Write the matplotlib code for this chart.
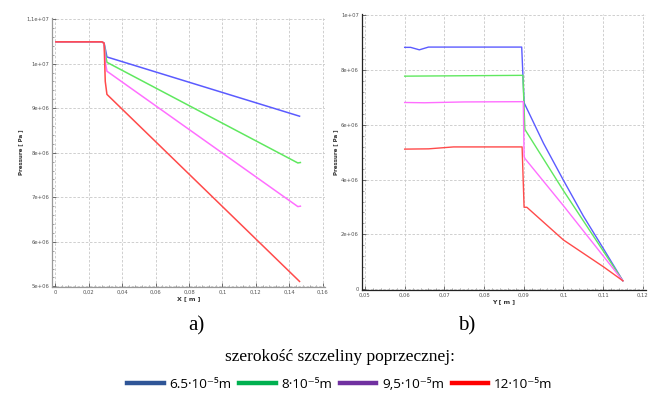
import numpy as np
import matplotlib
matplotlib.use("Agg")
import matplotlib.pyplot as plt
from matplotlib.ticker import FixedLocator, AutoMinorLocator, FuncFormatter

# ---- data ----
# a) pressure along X
xa_blue = [0.0005, 0.028, 0.0293, 0.0302, 0.031, 0.146]
pa_blue = [1.049e7, 1.049e7, 1.046e7, 1.03e7, 1.015e7, 8.82e6]
xa_green = [0.0005, 0.028, 0.0293, 0.0302, 0.031, 0.145, 0.1465]
pa_green = [1.049e7, 1.049e7, 1.046e7, 1.02e7, 1.003e7, 7.77e6, 7.78e6]
xa_mag = [0.0005, 0.028, 0.0293, 0.0302, 0.031, 0.145, 0.1465]
pa_mag = [1.049e7, 1.049e7, 1.046e7, 1.0e7, 9.83e6, 6.79e6, 6.80e6]
xa_red = [0.0005, 0.028, 0.0293, 0.0300, 0.031, 0.146]
pa_red = [1.049e7, 1.049e7, 1.046e7, 9.6e6, 9.31e6, 5.11e6]

# b) pressure along Y
yb_blue = [0.06, 0.0615, 0.0637, 0.066, 0.0895, 0.0901, 0.095, 0.100, 0.105, 0.1101, 0.115]
pb_blue = [8.82e6, 8.82e6, 8.73e6, 8.83e6, 8.83e6, 6.80e6, 5.32e6, 3.98e6, 2.68e6, 1.48e6, 3.1e5]
yb_green = [0.06, 0.07, 0.0898, 0.0903, 0.100, 0.115]
pb_green = [7.77e6, 7.78e6, 7.80e6, 5.83e6, 3.60e6, 3.1e5]
yb_mag = [0.06, 0.065, 0.075, 0.0899, 0.0901, 0.0903, 0.100, 0.115]
pb_mag = [6.81e6, 6.80e6, 6.83e6, 6.84e6, 4.85e6, 4.77e6, 3.05e6, 3.1e5]
yb_red = [0.06, 0.066, 0.0723, 0.0896, 0.0901, 0.0908, 0.100, 0.1101, 0.115]
pb_red = [5.11e6, 5.12e6, 5.19e6, 5.19e6, 2.99e6, 2.99e6, 1.80e6, 0.82e6, 3.1e5]

a_xticks = [0, 0.02, 0.04, 0.06, 0.08, 0.1, 0.12, 0.14, 0.16]
a_yticks = [5e6, 6e6, 7e6, 8e6, 9e6, 1e7, 1.1e7]
a_ylabels = ["5e+06", "6e+06", "7e+06", "8e+06", "9e+06", "1e+07", "1,1e+07"]
b_xticks = [0.05, 0.06, 0.07, 0.08, 0.09, 0.1, 0.11, 0.12]
b_yticks = [0, 2e6, 4e6, 6e6, 8e6, 1e7]
b_ylabels = ["0", "2e+06", "4e+06", "6e+06", "8e+06", "1e+07"]

legend_labels = ["6.5·10⁻⁵m", "8·10⁻⁵m", "9,5·10⁻⁵m", "12·10⁻⁵m"]
legend_colors = ["#2f5597", "#00b050", "#7030a0", "#ff0000"]
line_colors = ["#5b5bff", "#5fe85f", "#ff6eff", "#ff4a4a"]

W, H = 648, 394
fig = plt.figure(figsize=(W / 100, H / 100), dpi=100)


def fmt_x(v, pos):
    s = "%g" % round(v, 4)
    return s.replace(".", ",")


def style(ax, xt, yt, ylabels, xlabel, spine_col):
    for s in ["top", "right"]:
        ax.spines[s].set_visible(False)
    for s in ["left", "bottom"]:
        ax.spines[s].set_color(spine_col)
        ax.spines[s].set_linewidth(0.9)
    ax.xaxis.set_major_locator(FixedLocator(xt))
    ax.yaxis.set_major_locator(FixedLocator(yt))
    ax.set_yticklabels(ylabels)
    ax.xaxis.set_major_formatter(FuncFormatter(fmt_x))
    ax.xaxis.set_minor_locator(AutoMinorLocator(5))
    ax.yaxis.set_minor_locator(AutoMinorLocator(5))
    ax.tick_params(which="both", labelsize=3.8, colors="#555555", direction="in", pad=2)
    ax.tick_params(which="major", length=3, width=0.6)
    ax.tick_params(which="minor", length=1.5, width=0.4)
    ax.grid(True, which="major", linestyle=(0, (3, 2)), color="#c8c8c8", linewidth=0.6)
    ax.set_xlabel(xlabel, fontsize=4.5, fontweight="bold", labelpad=1, color="#333333")
    ax.set_ylabel("Pressure [ Pa ]", fontsize=4, fontweight="bold", labelpad=2, color="#333333")


# a)
ax1 = fig.add_axes([52 / W, 1 - 287 / H, (325 - 52) / W, (287 - 18) / H])
for (x, p), c in zip([(xa_blue, pa_blue), (xa_green, pa_green), (xa_mag, pa_mag), (xa_red, pa_red)], line_colors):
    ax1.plot(x, p, color=c, linewidth=1.1)
ax1.set_xlim(-0.0018, 0.1612)
ax1.set_ylim(4.985e6, 1.1025e7)
style(ax1, a_xticks, a_yticks, a_ylabels, "X [ m ]", "#999999")

# b)
ax2 = fig.add_axes([361.7 / W, 1 - 290 / H, (646 - 361.7) / W, (290 - 14) / H])
for (x, p), c in zip([(yb_blue, pb_blue), (yb_green, pb_green), (yb_mag, pb_mag), (yb_red, pb_red)], line_colors):
    ax2.plot(x, p, color=c, linewidth=1.0)
ax2.set_xlim(0.04917, 0.12083)
ax2.set_ylim(-0.026e6, 1.0036e7)
style(ax2, b_xticks, b_yticks, b_ylabels, "Y [ m ]", "#222222")

# captions
fig.text(196 / W, 1 - 326 / H, "a)", fontsize=15, family="Liberation Serif", ha="center", va="center")
fig.text(467 / W, 1 - 326 / H, "b)", fontsize=15, family="Liberation Serif", ha="center", va="center")
fig.text(340 / W, 1 - 357 / H, "szerokość szczeliny poprzecznej:", fontsize=12.5,
         family="Liberation Serif", ha="center", va="center")

handles = [plt.Line2D([], [], color=c, linewidth=3.2) for c in legend_colors]
fig.legend(handles, legend_labels, loc="center", bbox_to_anchor=(340 / W, 1 - 384 / H), ncol=4,
           frameon=False, handlelength=2.7, handletextpad=0.45, columnspacing=0.55,
           borderpad=0, prop={"family": ["Open Sans", "DejaVu Sans"], "size": 9.7})

fig.savefig("out.png", dpi=100)
